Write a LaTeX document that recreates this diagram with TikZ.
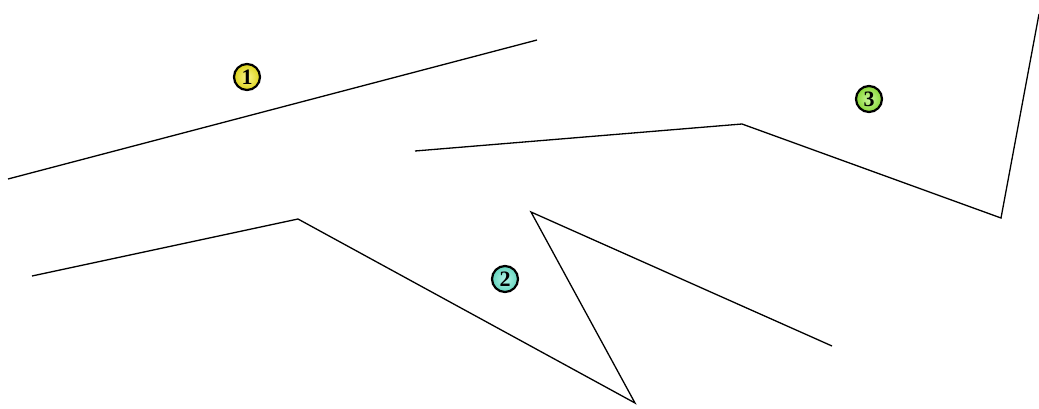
\documentclass[tikz,border=0pt]{standalone}
\usepackage{fontspec}
\setmainfont{Liberation Serif}
\usetikzlibrary{shadings}
\begin{document}
\begin{tikzpicture}[x=1pt,y=-1pt,
  wire/.style={line width=1.3pt,line join=miter},
  badge/.style={circle,draw=black,line width=2.2pt,minimum size=26pt,inner sep=0pt,font=\bfseries\fontsize{22pt}{22pt}\selectfont}]
\useasboundingbox (0,0) rectangle (1039,409);
\coordinate (a1) at (8,179);
\coordinate (a2) at (537,40);
\draw[wire] (a1) -- (a2);
\coordinate (b1) at (32,276);
\coordinate (b2) at (298,219);
\coordinate (b3) at (635,403);
\coordinate (b4) at (531,212);
\coordinate (b5) at (832,346);
\draw[wire] (b1) -- (b2) -- (b3) -- (b4) -- (b5);
\coordinate (c1) at (415,151);
\coordinate (c2) at (742,124);
\coordinate (c3) at (1001,218);
\coordinate (c4) at (1039,14);
\draw[wire] (c1) -- (c2) -- (c3) -- (c4);
\definecolor{yb}{RGB}{245,235,30}
\definecolor{cb}{RGB}{110,235,210}
\definecolor{gb}{RGB}{150,238,60}
\node[badge,inner color=yb!50!white,outer color=yb!90!black] (n1) at (247,77) {1};
\node[badge,inner color=cb!50!white,outer color=cb!90!black] (n2) at (505,279) {2};
\node[badge,inner color=gb!50!white,outer color=gb!90!black] (n3) at (869,99) {3};
\end{tikzpicture}
\end{document}
